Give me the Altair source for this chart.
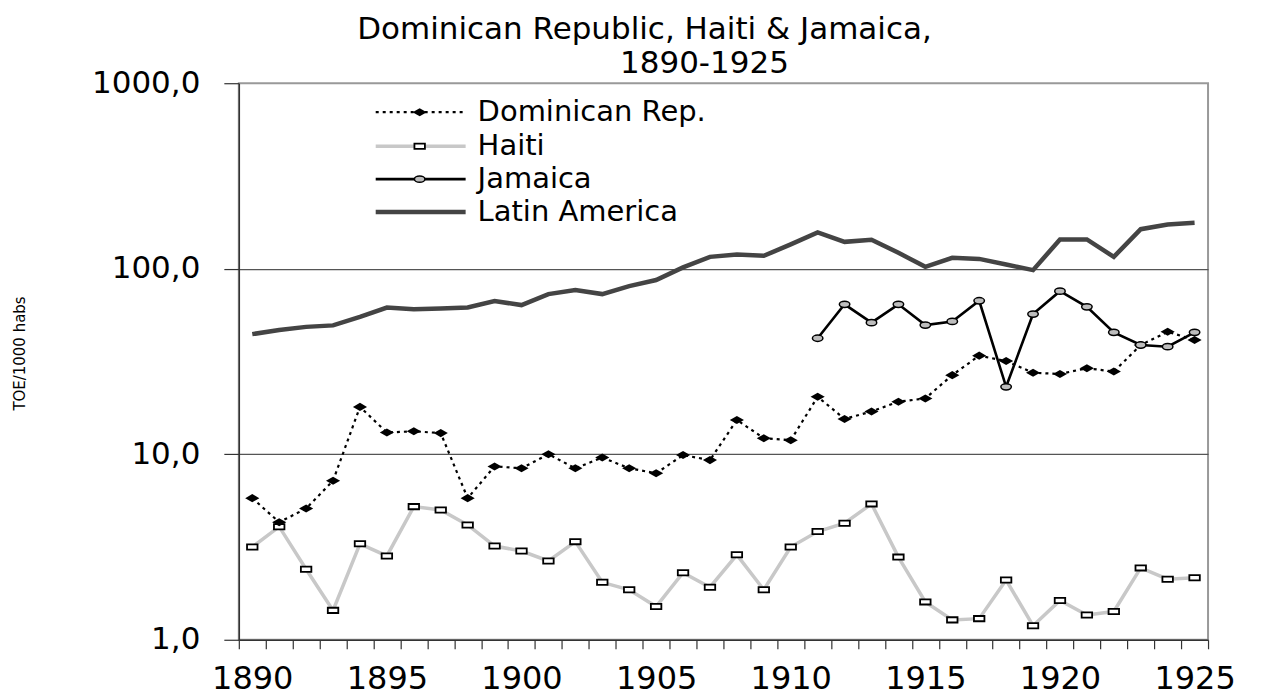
import altair as alt
import pandas as pd

years = list(range(1890, 1926))
dominican = [5.8, 4.3, 5.1, 7.2, 18.0, 13.1, 13.3, 13.0, 5.8, 8.6, 8.4, 10.0,
             8.4, 9.6, 8.4, 7.9, 9.9, 9.3, 15.3, 12.2, 11.9, 20.4, 15.5, 17.0,
             19.2, 20.0, 26.7, 34.0, 31.8, 27.5, 27.1, 29.1, 27.9, 38.8, 45.7, 41.3]
haiti = [3.16, 4.07, 2.40, 1.44, 3.29, 2.83, 5.22, 5.01, 4.16, 3.20, 3.01, 2.66,
         3.38, 2.04, 1.86, 1.51, 2.30, 1.92, 2.87, 1.86, 3.16, 3.83, 4.25, 5.40,
         2.79, 1.60, 1.28, 1.30, 2.10, 1.19, 1.63, 1.36, 1.42, 2.44, 2.12, 2.16]
jamaica_years = list(range(1911, 1926))
jamaica = [42.2, 64.3, 51.2, 64.3, 49.7, 52.0, 67.2, 23.1, 57.0, 75.7, 62.3,
           45.4, 38.8, 38.0, 45.4]
latin_america = [44.4, 46.7, 48.6, 49.5, 55.0, 61.8, 60.4, 61.1, 61.8, 66.9, 63.7,
                 73.0, 76.7, 73.0, 80.6, 86.9, 101.7, 115.9, 119.4, 117.4, 135.3,
                 156.8, 139.6, 143.2, 121.8, 102.4, 114.5, 113.0, 105.4, 98.3,
                 143.8, 143.8, 115.9, 163.4, 173.2, 176.7]
series_names = ["Dominican Rep.", "Haiti", "Jamaica", "Latin America"]
title_lines = ["Dominican Republic, Haiti & Jamaica,", "1890-1925"]
y_title = "TOE/1000 habs"
y_ticks = [1, 10, 100, 1000]
x_label_years = [1890, 1895, 1900, 1905, 1910, 1915, 1920, 1925]

FONT = "DejaVu Sans"

df_dom = pd.DataFrame({"year": years, "value": dominican})
df_hai = pd.DataFrame({"year": years, "value": haiti})
df_jam = pd.DataFrame({"year": jamaica_years, "value": jamaica})
df_la = pd.DataFrame({"year": years, "value": latin_america})

x_tick_values = sorted(set([y - 0.5 for y in years] + [years[-1] + 0.5] + x_label_years))

X = alt.X(
    "year:Q",
    scale=alt.Scale(domain=[1889.5, 1925.5], nice=False, zero=False),
    axis=alt.Axis(
        values=x_tick_values,
        labelExpr="datum.value % 5 == 0 ? toString(datum.value) : ''",
        tickOpacity=alt.condition("datum.value % 1 != 0", alt.value(1), alt.value(0)),
        labelOverlap=False,
        labelFlush=False,
        grid=False,
        title=None,
        tickSize=9,
        labelPadding=15,
        labelFont=FONT,
        labelFontSize=32,
        labelColor="black",
        domainColor="#333333",
        domainWidth=1.5,
        tickColor="#333333",
        tickWidth=1.2,
    ),
)

Y = alt.Y(
    "value:Q",
    scale=alt.Scale(type="log", domain=[1, 1000], nice=False),
    axis=alt.Axis(
        values=y_ticks,
        labelExpr="replace(format(datum.value, '.1f'), '.', ',')",
        grid=True,
        gridColor="#555555",
        gridWidth=1.2,
        gridOpacity=alt.condition("datum.value == 10 || datum.value == 100",
                                  alt.value(1), alt.value(0)),
        tickSize=15,
        labelPadding=24,
        labelFont=FONT,
        labelFontSize=31,
        labelColor="black",
        domainColor="#333333",
        domainWidth=1.5,
        tickColor="#333333",
        tickWidth=1.2,
        title=y_title,
        titleFont=FONT,
        titleFontSize=15,
        titleFontWeight="normal",
        titleColor="black",
        titleAngle=270,
        titleX=-219,
        titleY=270,
        titleAlign="center",
        titleBaseline="middle",
    ),
)

DIAMOND = "M-1,0L0,-0.57L1,0L0,0.57Z"
RECT = "M-1,-0.5L1,-0.5L1,0.5L-1,0.5Z"
ELLIPSE = "M-1,0A1,0.6,0,1,0,1,0A1,0.6,0,1,0,-1,0Z"

la_line = alt.Chart(df_la).mark_line(color="#444444", strokeWidth=4.5).encode(x=X, y=Y)
hai_line = alt.Chart(df_hai).mark_line(color="#c8c8c8", strokeWidth=3.5).encode(x=X, y=Y)
hai_pts = alt.Chart(df_hai).mark_point(shape=RECT, size=110, filled=True, fill="white",
                                       stroke="black", strokeWidth=1.8, opacity=1).encode(x=X, y=Y)
dom_line = alt.Chart(df_dom).mark_line(color="black", strokeWidth=2.2, strokeDash=[3, 4]).encode(x=X, y=Y)
dom_pts = alt.Chart(df_dom).mark_point(shape=DIAMOND, size=200, filled=True, color="black",
                                       opacity=1).encode(x=X, y=Y)
jam_line = alt.Chart(df_jam).mark_line(color="black", strokeWidth=2.6).encode(x=X, y=Y)
jam_pts = alt.Chart(df_jam).mark_point(shape=ELLIPSE, size=110, filled=True, fill="#bdbdbd",
                                       stroke="black", strokeWidth=1.5, opacity=1).encode(x=X, y=Y)

one = pd.DataFrame({"a": [0]})

# manual legend (inside plot, top-left)
leg_y = [29, 63, 96, 129]
lx0, lx1, lmx, ltx = 137, 227, 181, 239
legend_layers = []
legend_layers.append(alt.Chart(one).mark_rule(color="black", strokeWidth=2.2, strokeDash=[3, 4]).encode(
    x=alt.value(lx0), x2=alt.value(lx1), y=alt.value(leg_y[0])))
legend_layers.append(alt.Chart(one).mark_point(shape=DIAMOND, size=200, filled=True, color="black", opacity=1).encode(
    x=alt.value(lmx), y=alt.value(leg_y[0])))
legend_layers.append(alt.Chart(one).mark_rule(color="#c8c8c8", strokeWidth=3.5).encode(
    x=alt.value(lx0), x2=alt.value(lx1), y=alt.value(leg_y[1])))
legend_layers.append(alt.Chart(one).mark_point(shape=RECT, size=110, filled=True, fill="white", stroke="black",
                                               strokeWidth=1.8, opacity=1).encode(
    x=alt.value(lmx), y=alt.value(leg_y[1])))
legend_layers.append(alt.Chart(one).mark_rule(color="black", strokeWidth=2.6).encode(
    x=alt.value(lx0), x2=alt.value(lx1), y=alt.value(leg_y[2])))
legend_layers.append(alt.Chart(one).mark_point(shape=ELLIPSE, size=110, filled=True, fill="#bdbdbd", stroke="black",
                                               strokeWidth=1.5, opacity=1).encode(
    x=alt.value(lmx), y=alt.value(leg_y[2])))
legend_layers.append(alt.Chart(one).mark_rule(color="#444444", strokeWidth=4.5).encode(
    x=alt.value(lx0), x2=alt.value(lx1), y=alt.value(leg_y[3])))
for name, yy in zip(series_names, leg_y):
    legend_layers.append(alt.Chart(one).mark_text(align="left", baseline="middle", font=FONT, fontSize=29,
                                                  color="black").encode(
        x=alt.value(ltx), y=alt.value(yy), text=alt.value(name)))

title_layers = [
    alt.Chart(one).mark_text(align="center", baseline="middle", font=FONT, fontSize=31, color="black").encode(
        x=alt.value(406), y=alt.value(-53), text=alt.value(title_lines[0])),
    alt.Chart(one).mark_text(align="center", baseline="middle", font=FONT, fontSize=31, color="black").encode(
        x=alt.value(466), y=alt.value(-19), text=alt.value(title_lines[1])),
]

chart = alt.layer(
    la_line, hai_line, hai_pts, dom_line, dom_pts, jam_line, jam_pts,
    *legend_layers, *title_layers
).properties(
    width=970,
    height=557,
    autosize=alt.AutoSizeParams(type="none"),
    padding={"left": 231, "top": 75, "right": 48, "bottom": 56},
    background="white",
).configure_view(
    stroke="#999999",
    strokeWidth=2,
)

chart.save("out.html", embed_options={"renderer": "svg", "actions": False})
